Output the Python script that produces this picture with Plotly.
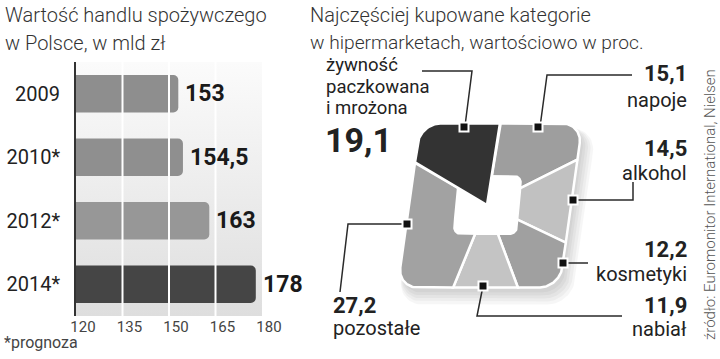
import numpy as np
import plotly.graph_objects as go

W, H = 720, 359

# ---------------- data ----------------
years = ["2009", "2010*", "2012*", "2014*"]
values = [153, 154.5, 163, 178]
x_ticks = [120, 135, 150, 165, 180]
bar_colors = ["#8e8e8e", "#8f8f8f", "#979797", "#454545"]

cat_names = ["żywność paczkowana i mrożona", "napoje", "alkohol", "kosmetyki", "nabiał", "pozostałe"]
cat_values = [19.1, 15.1, 14.5, 12.2, 11.9, 27.2]
cat_colors = ["#333333", "#9e9e9e", "#c1c1c1", "#a0a0a0", "#c4c4c4", "#a2a2a2"]


def fmt(v):
    return f"{v:g}".replace(".", ",")


FONT = "Roboto, 'Open Sans', sans-serif"
BOLD = "Roboto, sans-serif"

fig = go.Figure()

# ---------------- left: bar chart ----------------
# background panel (base subplot) with a vertical gradient
fig.add_trace(go.Scatter(
    x=[x_ticks[0], x_ticks[-1], x_ticks[-1], x_ticks[0], x_ticks[0]],
    y=[-0.5, -0.5, len(years) - 0.5, len(years) - 0.5, -0.5],
    fill="toself", mode="lines", line=dict(width=0),
    fillgradient=dict(type="vertical", start=-0.5, stop=len(years) - 0.5,
                      colorscale=[[0, "#fbfbfb"], [1, "#dedede"]]),
    hoverinfo="skip", showlegend=False, xaxis="x", yaxis="y"))

# bars on an overlaying subplot so they sit above the panel
fig.add_trace(go.Bar(
    y=list(range(len(years))), x=values, orientation="h",
    marker=dict(color=bar_colors, line=dict(width=0), cornerradius=5),
    width=0.59, showlegend=False, xaxis="x3", yaxis="y3"))

shapes = []
for t in x_ticks[1:-1]:
    shapes.append(dict(type="line", xref="x", yref="y", x0=t, x1=t, y0=-0.5, y1=len(years) - 0.5,
                       line=dict(color="white", width=2), layer="above"))

ann = []
# value labels (annotations sit above the white grid lines)
for i, v in enumerate(values):
    ann.append(dict(x=v, y=i, xref="x", yref="y", text=fmt(v), showarrow=False,
                    xanchor="left", yanchor="middle", xshift=5,
                    font=dict(family=BOLD, size=23, color="#1a1a1a", weight="bold")))

# ---------------- right: square "donut" ----------------
CX, CY = 490.0, 205.5   # centre of rounded box (px)
HW, HHt, RC, SK = 81.0, 82.0, 20.0, 0.14
PX, PY = 487.0, 205.0   # centre of the pie


def sdf(x, y, cx, cy, hw, hh, rc, sk):
    dx, dy = x - cx, y - cy
    u, v = dx + sk * dy, dy
    qx, qy = abs(u) - (hw - rc), abs(v) - (hh - rc)
    return np.hypot(max(qx, 0), max(qy, 0)) + min(max(qx, qy), 0) - rc


def hit(theta, ox, oy, cx, cy, hw, hh, rc, sk):
    a = np.radians(theta)
    dx, dy = np.sin(a), -np.cos(a)
    lo, hi = 0.0, 300.0
    for _ in range(40):
        m = (lo + hi) / 2
        if sdf(ox + m * dx, oy + m * dy, cx, cy, hw, hh, rc, sk) < 0:
            lo = m
        else:
            hi = m
    return ox + lo * dx, oy + lo * dy


def outline(cx, cy, hw, hh, rc, sk, n=361):
    pts = [hit(t, cx, cy, cx, cy, hw, hh, rc, sk) for t in np.linspace(0, 360, n)]
    return [p[0] for p in pts], [p[1] for p in pts]


# soft shadow
for i in range(5):
    xs, ys = outline(CX + 3 + i, CY + 5 + 1.5 * i, HW + 1.5 * i, HHt + 1.5 * i, RC + i, SK)
    fig.add_trace(go.Scatter(x=xs, y=ys, fill="toself", mode="lines", line=dict(width=0),
                             fillcolor="rgba(0,0,0,0.035)", hoverinfo="skip", showlegend=False,
                             xaxis="x2", yaxis="y2"))

START = 9.0
total = sum(cat_values)
angles = []
acc = START
for v in cat_values[1:]:
    angles.append((acc, acc + 360 * v / total))
    acc += 360 * v / total
angles.insert(0, (acc, START + 360))


def wedge(i):
    a0, a1 = angles[i]
    n = max(int((a1 - a0) * 2), 4)
    pts = [hit(t, PX, PY, CX, CY, HW, HHt, RC, SK) for t in np.linspace(a0, a1, n)]
    xs = [PX] + [p[0] for p in pts] + [PX]
    ys = [PY] + [p[1] for p in pts] + [PY]
    return go.Scatter(x=xs, y=ys, fill="toself", mode="lines",
                      line=dict(color="white", width=2.5), fillcolor=cat_colors[i],
                      name=cat_names[i], hoverinfo="name", showlegend=False,
                      xaxis="x2", yaxis="y2")


for i in range(1, len(cat_values)):
    fig.add_trace(wedge(i))

# central hole
hx, hy = outline(487.5, 205.0, 32.5, 30.0, 8.0, 0.08)
fig.add_trace(go.Scatter(x=hx, y=hy, fill="toself", mode="lines", line=dict(width=0),
                         fillcolor="white", hoverinfo="skip", showlegend=False,
                         xaxis="x2", yaxis="y2"))
fig.add_trace(wedge(0))

# leader lines + markers
leaders = [
    [(422, 71), (472, 71), (465, 126)],
    [(632, 75), (547, 75), (540, 127)],
    [(633, 182), (633, 200), (573, 200)],
    [(588, 263), (563, 263)],
    [(483, 286), (477, 316), (622, 316)],
    [(407, 224), (348, 224), (340, 292)],
]
markers = [(464, 127), (538, 127), (573, 200), (563, 263), (483, 286), (407, 224)]
for pts in leaders:
    path = "M " + " L ".join(f"{x},{y}" for x, y in pts)
    shapes.append(dict(type="path", xref="x2", yref="y2", path=path,
                       line=dict(color="#2a2a2a", width=1.5), layer="above"))
for x, y in markers:
    shapes.append(dict(type="rect", xref="x2", yref="y2", x0=x - 4.5, x1=x + 4.5, y0=y - 4.5, y1=y + 4.5,
                       fillcolor="#111111", line=dict(color="white", width=2), layer="above"))


def txt(x, y, s, size, xa="left", color="#222222", bold=False, angle=0, weight=None):
    ann.append(dict(x=x, y=y, xref="x2", yref="y2", text=s, showarrow=False, xanchor=xa,
                    yanchor="middle", textangle=angle,
                    font=dict(family=BOLD if bold else FONT, size=size, color=color,
                              weight=weight if weight else ("bold" if bold else "normal"))))


# titles
txt(3, 15, "Wartość handlu spożywczego", 20, color="#333333", weight=300)
txt(3, 43, "w Polsce, w mld zł", 20, color="#333333", weight=300)
txt(308, 15, "Najczęściej kupowane kategorie", 20, color="#333333", weight=300)
txt(308, 42, "w hipermarketach, wartościowo w proc.", 19.2, color="#333333", weight=300)

txt(2, 342, "*prognoza", 16, color="#444444")
txt(710, 205, "źródło: Euromonitor International, Nielsen", 15, xa="center", color="#555555",
    angle=-90, weight=300)

# category labels
txt(324, 65, "żywność", 18.5)
txt(324, 86.5, "paczkowana", 18.5)
txt(324, 108, "i mrożona", 18.5)
txt(323, 140, fmt(cat_values[0]), 34, bold=True)

txt(689, 73, fmt(cat_values[1]), 22, xa="right", bold=True)
txt(689, 100, cat_names[1], 20, xa="right")
txt(689, 148, fmt(cat_values[2]), 22, xa="right", bold=True)
txt(689, 173, cat_names[2], 20, xa="right")
txt(689, 249, fmt(cat_values[3]), 22, xa="right", bold=True)
txt(689, 274, cat_names[3], 20, xa="right")
txt(689, 305, fmt(cat_values[4]), 22, xa="right", bold=True)
txt(689, 329, cat_names[4], 20, xa="right")
txt(331, 305, fmt(cat_values[5]), 22, bold=True)
txt(331, 328, cat_names[5], 20)

bar_x = dict(domain=[76 / W, 262 / W], range=[x_ticks[0], x_ticks[-1]])
bar_y = dict(domain=[1 - 316 / H, 1 - 62 / H], range=[len(years) - 0.5, -0.5])

fig.update_layout(
    width=W, height=H, margin=dict(l=0, r=0, t=0, b=0, autoexpand=False), autosize=False,
    paper_bgcolor="white", plot_bgcolor="rgba(0,0,0,0)",
    showlegend=False, bargap=0.41,
    xaxis=dict(**bar_x, tickvals=x_ticks,
               ticktext=[str(t) for t in x_ticks], showgrid=False, zeroline=False, showline=False,
               ticks="", ticklabelshift=7, ticklabelstandoff=0, automargin=False,
               tickfont=dict(family=FONT, size=15, color="#444444"), anchor="y", fixedrange=True),
    yaxis=dict(**bar_y,
               tickvals=list(range(len(years))), ticktext=years, showgrid=False, zeroline=False,
               showline=True, linecolor="#333333", linewidth=2, ticks="", ticklabelstandoff=10,
               automargin=False,
               tickfont=dict(family=FONT, size=20, color="#222222"), anchor="x", fixedrange=True),
    xaxis3=dict(**bar_x, overlaying="x", visible=False, anchor="y3", fixedrange=True, automargin=False),
    yaxis3=dict(**bar_y, overlaying="y", visible=False, anchor="x3", fixedrange=True, automargin=False),
    xaxis2=dict(domain=[0, 1], range=[0, W], visible=False, anchor="y2", fixedrange=True, automargin=False),
    yaxis2=dict(domain=[0, 1], range=[H, 0], visible=False, anchor="x2", fixedrange=True, automargin=False),
    shapes=shapes, annotations=ann,
)

fig.write_html("out.html", config={"responsive": False})
